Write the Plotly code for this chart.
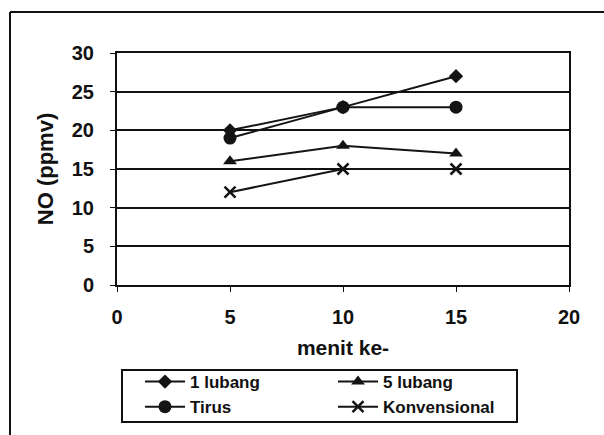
import plotly.graph_objects as go

menit = [5, 10, 15]
satu_lubang = [20, 23, 27]
lima_lubang = [16, 18, 17]
tirus = [19, 23, 23]
konvensional = [12, 15, 15]

W, H = 604, 435
L, R, T, B = 117, 569, 53, 285

fig = go.Figure()
lw = 2
ink = "#141414"
fig.add_trace(go.Scatter(x=menit, y=satu_lubang, name="1 lubang", mode="lines+markers",
                         line=dict(color=ink, width=lw),
                         marker=dict(symbol="diamond", size=11, color=ink)))
fig.add_trace(go.Scatter(x=menit, y=lima_lubang, name="5 lubang", mode="lines+markers",
                         line=dict(color=ink, width=lw),
                         marker=dict(symbol="triangle-up", size=12, color=ink)))
fig.add_trace(go.Scatter(x=menit, y=tirus, name="Tirus", mode="lines+markers",
                         line=dict(color=ink, width=lw),
                         marker=dict(symbol="circle", size=13, color=ink)))
fig.add_trace(go.Scatter(x=menit, y=konvensional, name="Konvensional", mode="lines+markers",
                         line=dict(color=ink, width=lw),
                         marker=dict(symbol="x-thin", size=11, color=ink,
                                     line=dict(width=2.5, color=ink))))

pw, ph = R - L, B - T
def px(x): return (x - L) / pw
def py(y): return (B - y) / ph

shapes = [
    dict(type="line", xref="paper", yref="paper", x0=px(10), x1=px(604), y0=py(12), y1=py(12),
         line=dict(color="#111", width=2)),
    dict(type="line", xref="paper", yref="paper", x0=px(10), x1=px(10), y0=py(12), y1=py(435),
         line=dict(color="#111", width=2)),
    dict(type="rect", xref="paper", yref="paper", x0=px(122), x1=px(517), y0=py(370), y1=py(422),
         line=dict(color="#111", width=2)),
]

fig.update_layout(
    width=W, height=H,
    margin=dict(l=L, r=W - R, t=T, b=H - B, autoexpand=False),
    paper_bgcolor="white", plot_bgcolor="white",
    font=dict(family="Liberation Sans, Arial", size=20, color="#111", weight="bold"),
    showlegend=True,
    legend=dict(orientation="h", x=px(140), y=py(364), xanchor="left", yanchor="top",
                entrywidth=138, entrywidthmode="pixels",
                font=dict(size=17, weight="bold"),
                tracegroupgap=0, itemwidth=40, bgcolor="rgba(0,0,0,0)"),
    shapes=shapes,
    xaxis=dict(range=[0, 20], tickvals=[0, 5, 10, 15, 20], showgrid=False, zeroline=False,
               showline=True, linecolor="#111", linewidth=2, mirror=True,
               ticks="outside", ticklen=5, tickcolor="#111", ticklabelstandoff=8,
               tickfont=dict(size=20, weight="bold"),
               title=dict(text="menit ke-", standoff=13, font=dict(size=21, weight="bold"))),
    yaxis=dict(range=[0, 30], tickvals=[0, 5, 10, 15, 20, 25, 30], showgrid=True,
               gridcolor="#111", gridwidth=2, zeroline=False,
               showline=True, linecolor="#111", linewidth=2, mirror=True,
               ticks="outside", ticklen=5, tickcolor="#111", ticklabelstandoff=12,
               tickfont=dict(size=20, weight="bold"),
               title=dict(text="NO (ppmv)", standoff=12, font=dict(size=22, weight="bold"))),
)

fig.write_html("out.html")
